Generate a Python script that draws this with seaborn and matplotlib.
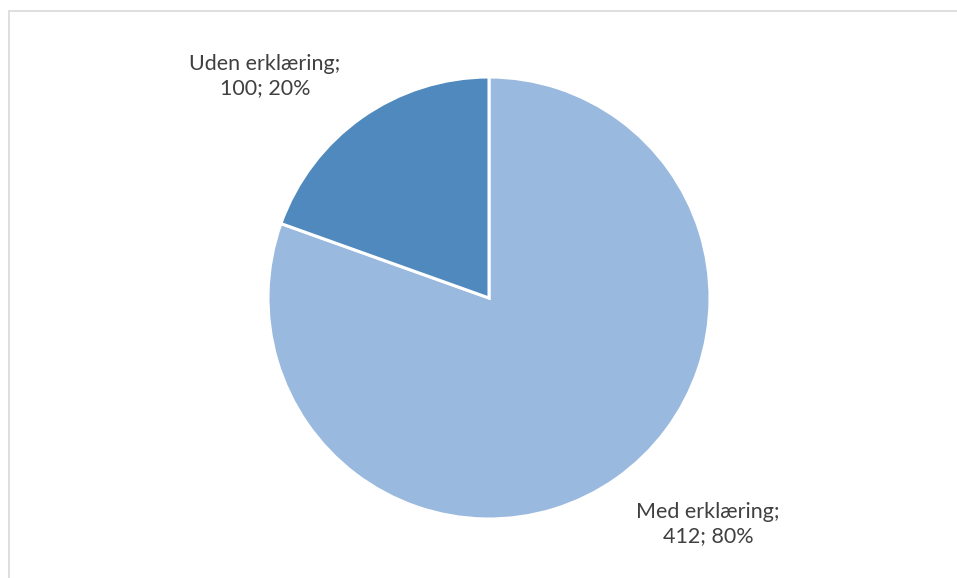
import matplotlib
matplotlib.use("Agg")
import matplotlib.pyplot as plt
import seaborn as sns
from matplotlib.patches import Rectangle

categories = ["Med erklæring", "Uden erklæring"]
values = [412, 100]
percent_labels = ["80%", "20%"]
colors = ["#9AB9DF", "#4F89BD"]

sns.set_theme(style="white")
plt.rcParams["font.family"] = ["Lato", "DejaVu Sans"]

W, H = 957, 578
fig = plt.figure(figsize=(W / 100, H / 100), dpi=100)
fig.patch.set_facecolor("white")

# outer chart border (cropped at right/bottom)
fig.patches.append(Rectangle((9 / W, -0.05), 1.1, (H - 11) / H + 0.05,
                             transform=fig.transFigure, fill=False,
                             edgecolor="#D9D9D9", linewidth=1.2))

cx, cy, r = 489, 298, 221
ax = fig.add_axes([(cx - r) / W, (H - cy - r) / H, 2 * r / W, 2 * r / H])
ax.pie(values, colors=colors, startangle=90, counterclock=False,
       wedgeprops=dict(edgecolor="white", linewidth=2.2))
ax.set_xlim(-1, 1)
ax.set_ylim(-1, 1)
ax.set_aspect("equal")
ax.axis("off")

label_pos = [(708, 524), (265, 76)]
for cat, v, p, (lx, ly) in zip(categories, values, percent_labels, label_pos):
    fig.text(lx / W, 1 - ly / H, f"{cat};\n{v}; {p}", ha="center", va="center",
             fontsize=15.5, color="#404040", linespacing=1.2)

fig.savefig("out.png", dpi=100, facecolor="white")
